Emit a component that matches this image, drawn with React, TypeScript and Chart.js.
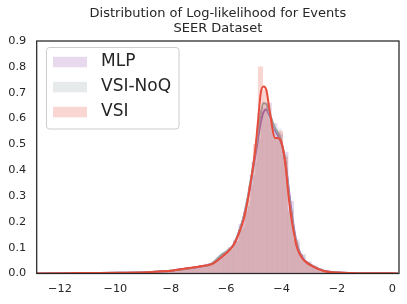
import React, { useEffect, useRef } from "react";
import { Chart, registerables } from "chart.js";

Chart.register(...registerables);

// ---------- data ----------
const TITLE_LINES = ["Distribution of Log-likelihood for Events", "SEER Dataset"];
const SERIES_NAMES = ["MLP", "VSI-NoQ", "VSI"];
const X_TICKS = [-12, -10, -8, -6, -4, -2, 0];
const Y_TICKS = [0, 0.1, 0.2, 0.3, 0.4, 0.5, 0.6, 0.7, 0.8, 0.9];
const X_MIN = -12.84;
const X_MAX = 0.24;
const Y_MIN = 0;
const Y_MAX = 0.9;

// KDE curve sample positions (log-likelihood) and densities
const kdeX = [-12.84, -11.85, -10.87, -9.88, -8.89, -8.4, -7.91, -7.41, -6.92, -6.52, -6.23, -5.93, -5.73, -5.54, -5.34, -5.14, -4.95, -4.85, -4.75, -4.65, -4.55, -4.45, -4.35, -4.25, -4.16, -4.06, -3.96, -3.86, -3.76, -3.66, -3.56, -3.47, -3.37, -3.22, -3.07, -2.87, -2.68, -2.48, -2.18, -1.98, -1.49, -1.0, -0.5, 0.0, 0.2];
const kdeMLP = [0, 0.001, 0.002, 0.003, 0.005, 0.008, 0.012, 0.019, 0.027, 0.037, 0.058, 0.088, 0.112, 0.16, 0.23, 0.335, 0.455, 0.52, 0.585, 0.625, 0.635, 0.615, 0.59, 0.56, 0.54, 0.52, 0.485, 0.43, 0.345, 0.255, 0.18, 0.125, 0.09, 0.058, 0.042, 0.029, 0.019, 0.011, 0.006, 0.004, 0.002, 0.001, 0.001, 0.0005, 0];
const kdeVSINoQ = [0, 0.001, 0.002, 0.003, 0.005, 0.008, 0.012, 0.019, 0.027, 0.038, 0.068, 0.09, 0.112, 0.16, 0.23, 0.345, 0.47, 0.55, 0.62, 0.66, 0.655, 0.625, 0.595, 0.565, 0.55, 0.53, 0.49, 0.43, 0.335, 0.24, 0.17, 0.12, 0.085, 0.055, 0.04, 0.028, 0.018, 0.01, 0.005, 0.004, 0.002, 0.001, 0.001, 0.0005, 0];
const kdeVSI = [0, 0.001, 0.002, 0.003, 0.005, 0.008, 0.012, 0.02, 0.028, 0.036, 0.058, 0.085, 0.11, 0.155, 0.22, 0.335, 0.48, 0.59, 0.7, 0.724, 0.71, 0.645, 0.575, 0.525, 0.525, 0.52, 0.49, 0.42, 0.313, 0.225, 0.16, 0.11, 0.08, 0.055, 0.04, 0.028, 0.018, 0.01, 0.005, 0.004, 0.002, 0.001, 0.001, 0.0005, 0];

// histogram bins: first bin centre, bin width, heights (density)
const histMLPStart = -8.25;
const histMLPWidth = 0.2;
const histMLP = [0.009, 0.012, 0.014, 0.017, 0.02, 0.023, 0.026, 0.03, 0.036, 0.045, 0.06, 0.078, 0.1, 0.13, 0.19, 0.26, 0.38, 0.52, 0.64, 0.66, 0.58, 0.54, 0.47, 0.28, 0.12, 0.07, 0.045, 0.03, 0.02, 0.012, 0.007, 0.004, 0.003];
const histNoQStart = -8.29;
const histNoQWidth = 0.22;
const histNoQ = [0.009, 0.011, 0.014, 0.017, 0.02, 0.024, 0.028, 0.032, 0.038, 0.05, 0.075, 0.09, 0.125, 0.18, 0.28, 0.43, 0.62, 0.66, 0.58, 0.56, 0.46, 0.25, 0.13, 0.075, 0.045, 0.03, 0.018, 0.01, 0.006, 0.004];
const histVSIStart = -8.36;
const histVSIWidth = 0.18;
const histVSI = [0.01, 0.01, 0.012, 0.015, 0.017, 0.02, 0.022, 0.026, 0.03, 0.032, 0.038, 0.048, 0.06, 0.078, 0.095, 0.125, 0.17, 0.24, 0.34, 0.5, 0.8, 0.71, 0.6, 0.52, 0.55, 0.45, 0.24, 0.13, 0.075, 0.048, 0.035, 0.025, 0.015, 0.01, 0.006, 0.004, 0.003];

// ---------- style ----------
const LINE_COLORS = ["#9b59b6", "#95a5a6", "#e74c3c"];
const FILL_COLORS = ["rgba(155,89,182,0.23)", "rgba(149,165,166,0.23)", "rgba(231,76,60,0.23)"];
const TEXT = "#262626";
const FONT = '"DejaVu Sans", "Liberation Sans", sans-serif';

const W = 407;
const H = 304;
const AREA_LEFT = 36.7;
const AREA_RIGHT = 399;
const AREA_TOP = 41;
const AREA_BOTTOM = 273.5;
const PX_PER_UNIT = (AREA_RIGHT - AREA_LEFT) / (X_MAX - X_MIN);

function histData(start: number, width: number, heights: number[]) {
  return heights.map((h, i) => ({ x: start + i * width, y: h }));
}
function kdeData(ys: number[]) {
  return kdeX.map((x, i) => ({ x, y: ys[i] }));
}

const framePlugin = {
  id: "frame",
  afterDatasetsDraw(chart: any) {
    const { ctx, chartArea } = chart;
    ctx.save();
    ctx.strokeStyle = TEXT;
    ctx.lineWidth = 1.25;
    ctx.strokeRect(chartArea.left, chartArea.top, chartArea.right - chartArea.left, chartArea.bottom - chartArea.top);
    ctx.restore();
  },
};

const titlePlugin = {
  id: "twoLineTitle",
  afterDraw(chart: any) {
    const { ctx, chartArea } = chart;
    const cx = (chartArea.left + chartArea.right) / 2;
    ctx.save();
    ctx.fillStyle = TEXT;
    ctx.font = `13px ${FONT}`;
    ctx.textAlign = "center";
    ctx.textBaseline = "middle";
    TITLE_LINES.forEach((t, i) => ctx.fillText(t, cx, 13.5 + i * 15));
    ctx.restore();
  },
};

const legendPlugin = {
  id: "boxLegend",
  afterDraw(chart: any) {
    const { ctx, chartArea } = chart;
    const bx = chartArea.left + 9.8;
    const by = chartArea.top + 6.5;
    const bw = 132.5;
    const bh = 81.5;
    ctx.save();
    ctx.beginPath();
    (ctx as any).roundRect(bx, by, bw, bh, 3);
    ctx.fillStyle = "rgba(255,255,255,0.8)";
    ctx.fill();
    ctx.strokeStyle = "#cccccc";
    ctx.lineWidth = 1;
    ctx.stroke();
    ctx.font = `17px ${FONT}`;
    ctx.textBaseline = "middle";
    ctx.textAlign = "left";
    SERIES_NAMES.forEach((name, i) => {
      const cy = by + 14.5 + i * 25;
      ctx.fillStyle = FILL_COLORS[i];
      ctx.fillRect(bx + 6.5, cy - 5.2, 34, 10.5);
      ctx.fillStyle = TEXT;
      ctx.fillText(name, bx + 54.5, cy);
    });
    ctx.restore();
  },
};

export default function App() {
  const ref = useRef<HTMLCanvasElement>(null);
  useEffect(() => {
    const hists = [
      histData(histMLPStart, histMLPWidth, histMLP),
      histData(histNoQStart, histNoQWidth, histNoQ),
      histData(histVSIStart, histVSIWidth, histVSI),
    ];
    const widths = [histMLPWidth, histNoQWidth, histVSIWidth];
    const kdes = [kdeData(kdeMLP), kdeData(kdeVSINoQ), kdeData(kdeVSI)];
    const datasets: any[] = [];
    for (let i = 0; i < 3; i++) {
      datasets.push({
        type: "bar",
        label: SERIES_NAMES[i] + " hist",
        data: hists[i],
        backgroundColor: FILL_COLORS[i],
        borderWidth: 0,
        grouped: false,
        barThickness: widths[i] * PX_PER_UNIT * 0.9,
        order: 6 - 2 * i,
      });
      datasets.push({
        type: "line",
        label: SERIES_NAMES[i],
        data: kdes[i],
        borderColor: LINE_COLORS[i],
        borderWidth: 2,
        pointRadius: 0,
        fill: false,
        cubicInterpolationMode: "monotone",
        order: 5 - 2 * i,
      });
    }
    const chart = new Chart(ref.current!, {
      type: "bar",
      data: { datasets },
      options: {
        responsive: false,
        animation: false,
        devicePixelRatio: 1,
        layout: { padding: { left: 0, right: W - AREA_RIGHT, top: AREA_TOP, bottom: 0 } },
        plugins: { legend: { display: false }, title: { display: false }, tooltip: { enabled: false } },
        scales: {
          x: {
            type: "linear",
            offset: false,
            min: X_MIN,
            max: X_MAX,
            grid: { display: false, drawTicks: false, offset: false },
            border: { display: false },
            afterBuildTicks: (s: any) => {
              s.ticks = X_TICKS.map((v) => ({ value: v }));
            },
            afterFit: (s: any) => {
              s.height = H - AREA_BOTTOM;
            },
            ticks: {
              color: TEXT,
              font: { family: FONT, size: 11.3 },
              padding: 9,
              maxRotation: 0,
              autoSkip: false,
              callback: (v: any) => (Number(v) < 0 ? "\u2212" + Math.abs(Number(v)) : String(v)),
            },
          },
          y: {
            type: "linear",
            min: Y_MIN,
            max: Y_MAX,
            grid: { display: false, drawTicks: false },
            border: { display: false },
            afterBuildTicks: (s: any) => {
              s.ticks = Y_TICKS.map((v) => ({ value: v }));
            },
            afterFit: (s: any) => {
              s.width = AREA_LEFT;
            },
            ticks: {
              color: TEXT,
              font: { family: FONT, size: 11.3 },
              padding: 10.5,
              autoSkip: false,
              callback: (v: any) => Number(v).toFixed(1),
            },
          },
        },
      } as any,
      plugins: [framePlugin, titlePlugin, legendPlugin],
    });
    return () => chart.destroy();
  }, []);
  return (
    <div style={{ position: "fixed", left: 0, top: 0, width: W, height: H, background: "#fff" }}>
      <canvas ref={ref} width={W} height={H} style={{ display: "block", width: W, height: H }} />
    </div>
  );
}
